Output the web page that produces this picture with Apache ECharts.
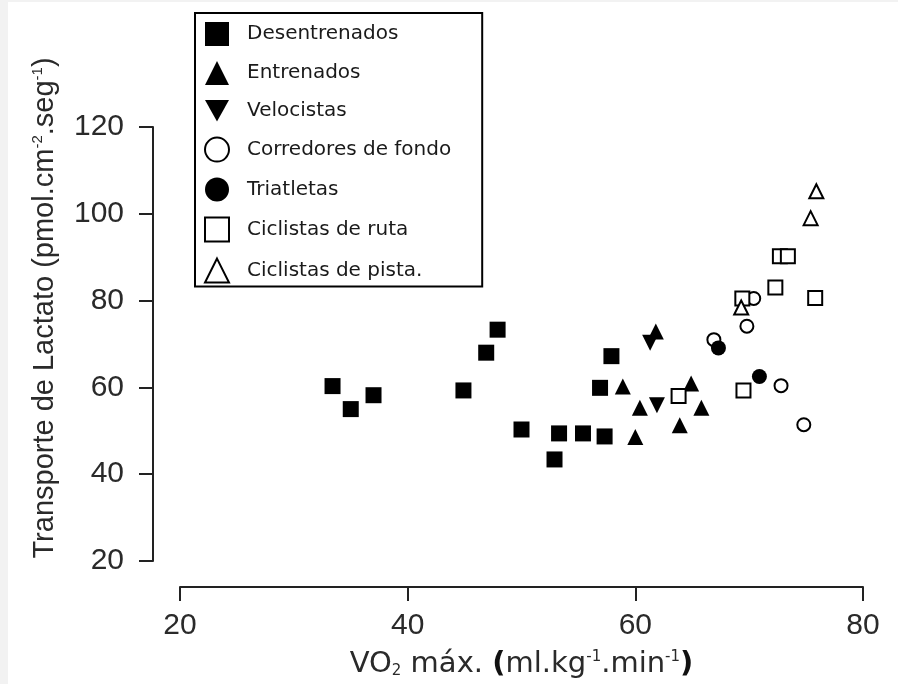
<!DOCTYPE html>
<html>
<head>
<meta charset="utf-8">
<script src="https://cdn.jsdelivr.net/npm/echarts@6/dist/echarts.min.js"></script>
<style>
  html, body { margin: 0; padding: 0; background: #f2f2f2; }
  #chart { position: absolute; left: 8px; top: 2px; width: 890px; height: 682px; background: #fff; }
</style>
</head>
<body>
<div id="chart"></div>
<script>
// [VO2 max, lactate transport] per group
const desentrenados = [[33.4, 60.3], [35.0, 55.0], [37.0, 58.2], [44.9, 59.3], [46.9, 68.0], [47.9, 73.3], [50.0, 50.3],
  [52.9, 43.4], [53.3, 49.4], [55.4, 49.4], [57.3, 48.7], [56.9, 59.9], [57.9, 67.2]];
const entrenados = [[58.9, 60.2], [60.4, 55.3], [60.0, 48.6], [63.9, 51.3], [64.9, 60.9], [65.8, 55.3], [61.8, 72.9]];
const velocistas = [[61.9, 55.9], [61.3, 70.3]];
const corredores = [[66.9, 71.0], [69.8, 74.1], [70.4, 80.5], [72.8, 60.4], [74.8, 51.4]];
const triatletas = [[67.3, 69.1], [70.9, 62.5]];
const ciclistasRuta = [[63.8, 58.0], [69.5, 59.3], [69.4, 80.5], [72.3, 83.0], [72.7, 90.2], [73.4, 90.2], [75.8, 80.6]];
const ciclistasPista = [[75.9, 105.2], [75.4, 99.0], [69.3, 78.4]];

const xTicks = [20, 40, 60, 80];
const yTicks = [20, 40, 60, 80, 100, 120];

const DOWN_TRIANGLE = 'path://M0,0L20,0L10,18Z';

const filled = { color: '#000', opacity: 1 };
const open = { color: '#fff', borderColor: '#000', borderWidth: 2, opacity: 1 };

function group(name, data, symbol, size, style) {
  return { type: 'scatter', name, data, symbol, symbolSize: size, itemStyle: style };
}

const chart = echarts.init(document.getElementById('chart'));

const axisCommon = {
  type: 'value',
  splitLine: { show: false },
  axisLine: { show: true, lineStyle: { color: '#222', width: 2 } },
  axisTick: { show: true, length: 14, lineStyle: { color: '#222', width: 2 } },
};

chart.setOption({
  animation: false,
  grid: { left: 172, top: 125, width: 683, height: 435 },
  legend: {
    orient: 'vertical',
    left: 187,
    top: 11,
    itemWidth: 24,
    itemHeight: 24,
    itemGap: 15,
    padding: [9, 31, 3, 9],
    borderColor: '#000',
    borderWidth: 2,
    textStyle: { fontFamily: 'DejaVu Sans', fontSize: 20, color: '#1a1a1a', padding: [0, 0, 0, 13] },
    data: [
      'Desentrenados', 'Entrenados', 'Velocistas',
      { name: 'Corredores de fondo', itemStyle: { borderWidth: 2 } },
      'Triatletas',
      { name: 'Ciclistas de ruta', itemStyle: { borderWidth: 2 } },
      { name: 'Ciclistas de pista.', itemStyle: { borderWidth: 2 } },
    ],
  },
  xAxis: {
    ...axisCommon,
    min: xTicks[0],
    max: xTicks[xTicks.length - 1],
    interval: 20,
    offset: 26,
    axisLabel: { fontFamily: 'Liberation Sans', fontSize: 30, color: '#2a2a2a', margin: 24 },
    name: '{n|VO}{sub|2}{n| máx. }{b|(}{n|ml.kg}{s|-1}{n|.min}{s|-1}{b|)}',
    nameLocation: 'middle',
    nameGap: 63,
    nameTextStyle: {
      rich: {
        n: { fontFamily: 'DejaVu Sans', fontSize: 29, color: '#2a2a2a' },
        b: { fontFamily: 'DejaVu Sans', fontSize: 29, fontWeight: 'bold', color: '#111' },
        s: { fontFamily: 'DejaVu Sans', fontSize: 15, color: '#2a2a2a', verticalAlign: 'top' },
        sub: { fontFamily: 'DejaVu Sans', fontSize: 15, color: '#2a2a2a', verticalAlign: 'bottom' },
      },
    },
  },
  yAxis: {
    ...axisCommon,
    min: yTicks[0],
    max: yTicks[yTicks.length - 1],
    interval: 20,
    offset: 27,
    axisLabel: { fontFamily: 'Liberation Sans', fontSize: 30, color: '#2a2a2a', margin: 29 },
    name: '{n|Transporte de Lactato (pmol.cm}{s|-2}{n|.seg}{s|-1}{n|)}',
    nameLocation: 'middle',
    nameGap: 94,
    nameTextStyle: {
      padding: [0, 0, 0, 72],
      rich: {
        n: { fontFamily: 'Liberation Sans', fontSize: 29, color: '#2a2a2a' },
        s: { fontFamily: 'Liberation Sans', fontSize: 15, color: '#2a2a2a', verticalAlign: 'top' },
      },
    },
  },
  series: [
    group('Desentrenados', desentrenados, 'rect', 16, filled),
    group('Entrenados', entrenados, 'triangle', 16, filled),
    group('Velocistas', velocistas, DOWN_TRIANGLE, 16, filled),
    group('Corredores de fondo', corredores, 'circle', 13, open),
    group('Triatletas', triatletas, 'circle', 15, filled),
    group('Ciclistas de ruta', ciclistasRuta, 'rect', 14, open),
    group('Ciclistas de pista.', ciclistasPista, 'triangle', 14, open),
  ],
});
</script>
</body>
</html>
